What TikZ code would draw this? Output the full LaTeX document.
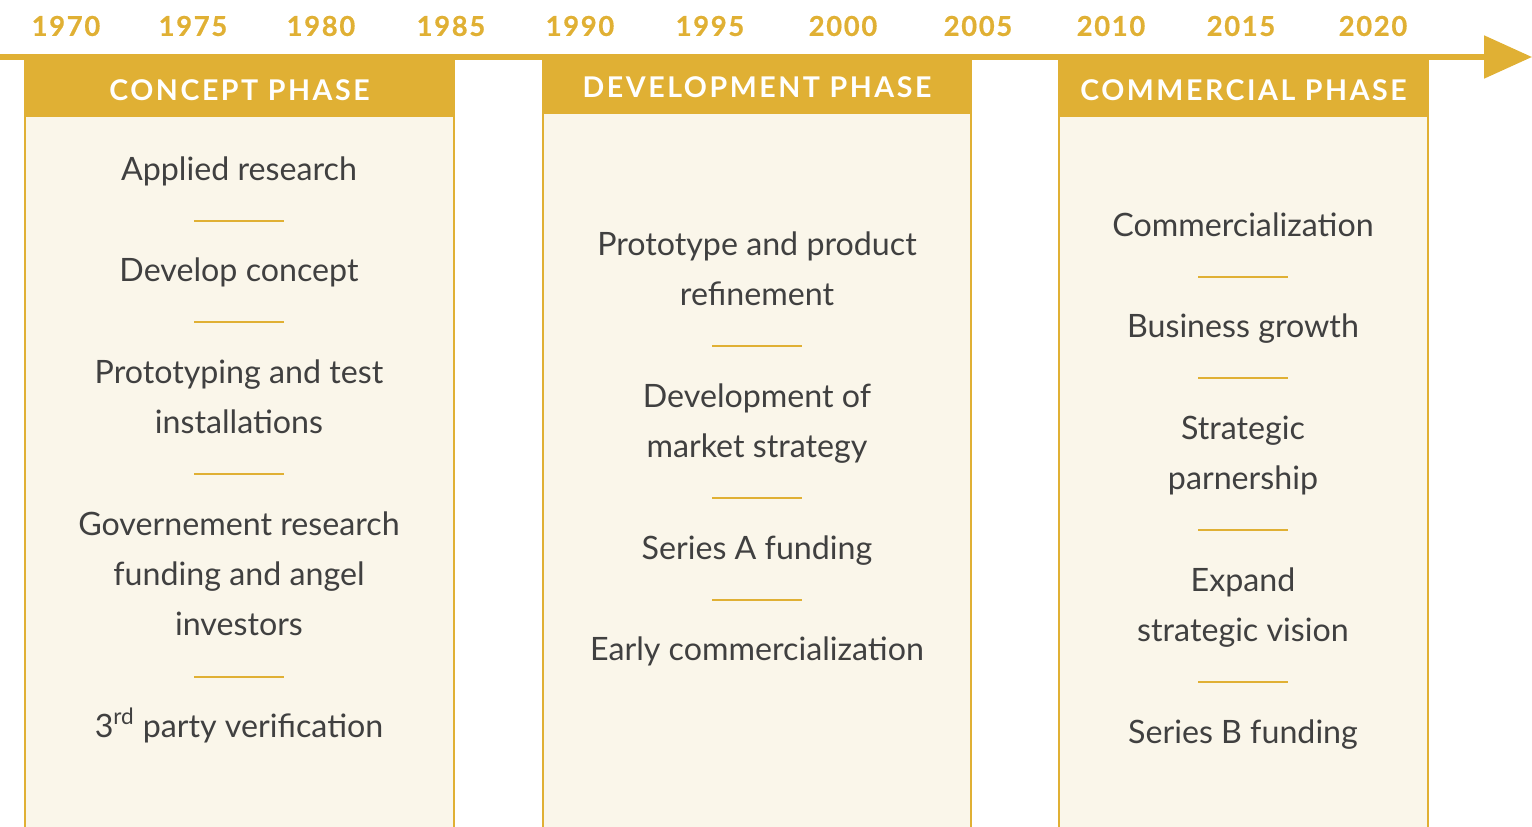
\documentclass[tikz,border=0pt]{standalone}
\usepackage{fontspec}
\setmainfont{Lato}
\newfontfamily\capsfont{Lato}[LetterSpace=9]
\newfontfamily\yearfont{Lato}[LetterSpace=6,FakeBold=0.6]
\usetikzlibrary{arrows.meta}

\definecolor{gold}{HTML}{E0B034}
\definecolor{cream}{HTML}{FAF6EA}
\definecolor{ink}{HTML}{404040}

\begin{document}
\begin{tikzpicture}
[   x=0.025cm, y=-0.025cm,
    year/.style={text=gold,font=\yearfont\bfseries\fontsize{19.5}{19.5}\selectfont},
    phasehead/.style={text=white,font=\capsfont\bfseries\fontsize{20.3}{20.3}\selectfont},
    item/.style={text=ink,align=center,font=\fontsize{22.9}{35.6}\selectfont,
                 execute at begin node=\strut,execute at end node=\strut},
    sepline/.style={draw=gold,line width=2.1pt},
    border/.style={draw=gold,line width=1.8pt},
]
    \useasboundingbox (0,0) rectangle (1532,827);

    % phase columns: name/left/right/header bottom/title
    \foreach \p/\l/\r/\b/\t in {concept/24/455/117/CONCEPT PHASE,
                                devel/542/972/114/DEVELOPMENT PHASE,
                                commerce/1058/1429/117/COMMERCIAL PHASE}
    {
        \fill[cream] (\l,\b) rectangle (\r,827);
        \draw[border] (\l+1.2,\b) -- (\l+1.2,827);
        \draw[border] (\r-1.2,\b) -- (\r-1.2,827);
        \fill[gold] (\l,56) rectangle (\r,\b);
        \node[phasehead] (\p-head) at ({(\l+\r)/2},\b-27) {\t};
    }

    % time axis
    \coordinate (t-start) at (0,57);
    \coordinate (t-end) at (1532,57);
    \draw[gold,line width=3.8pt,-{Triangle[length=1.2cm,width=1.05cm]}] (t-start) -- (t-end);

    \foreach \yr/\x in {1970/66,1975/193,1980/321,1985/451,1990/580,1995/710,
                        2000/843,2005/978,2010/1111,2015/1241,2020/1373}
    {   \node[year] (y-\yr) at (\x,26) {\yr};
    }

    % concept phase
    \node[item] (c-1) at (239,170) {Applied research};
    \node[item] (c-2) at (239,271) {Develop concept};
    \node[item] (c-3) at (239,404) {Prototyping and test\\installations};
    \node[item] (c-4) at (239,581) {Governement research\\funding and angel\\investors};
    \node[item] (c-5) at (239,727) {3\textsuperscript{rd} party verification};
    \foreach \y in {221,322,474,677}
        \draw[sepline] (194,\y) -- (284,\y);

    % development phase
    \node[item] (d-1) at (757,276) {Prototype and product\\refinement};
    \node[item] (d-2) at (757,428) {Development of\\market strategy};
    \node[item] (d-3) at (757,549) {Series A funding};
    \node[item] (d-4) at (757,650) {Early commercialization};
    \foreach \y in {346,498,600}
        \draw[sepline] (712,\y) -- (802,\y);

    % commercial phase
    \node[item] (m-1) at (1243,226) {Commercialization};
    \node[item] (m-2) at (1243,327) {Business growth};
    \node[item] (m-3) at (1243,460) {Strategic\\parnership};
    \node[item] (m-4) at (1243,612) {Expand\\strategic vision};
    \node[item] (m-5) at (1243,733) {Series B funding};
    \foreach \y in {277,378,530,682}
        \draw[sepline] (1198,\y) -- (1288,\y);
\end{tikzpicture}
\end{document}
